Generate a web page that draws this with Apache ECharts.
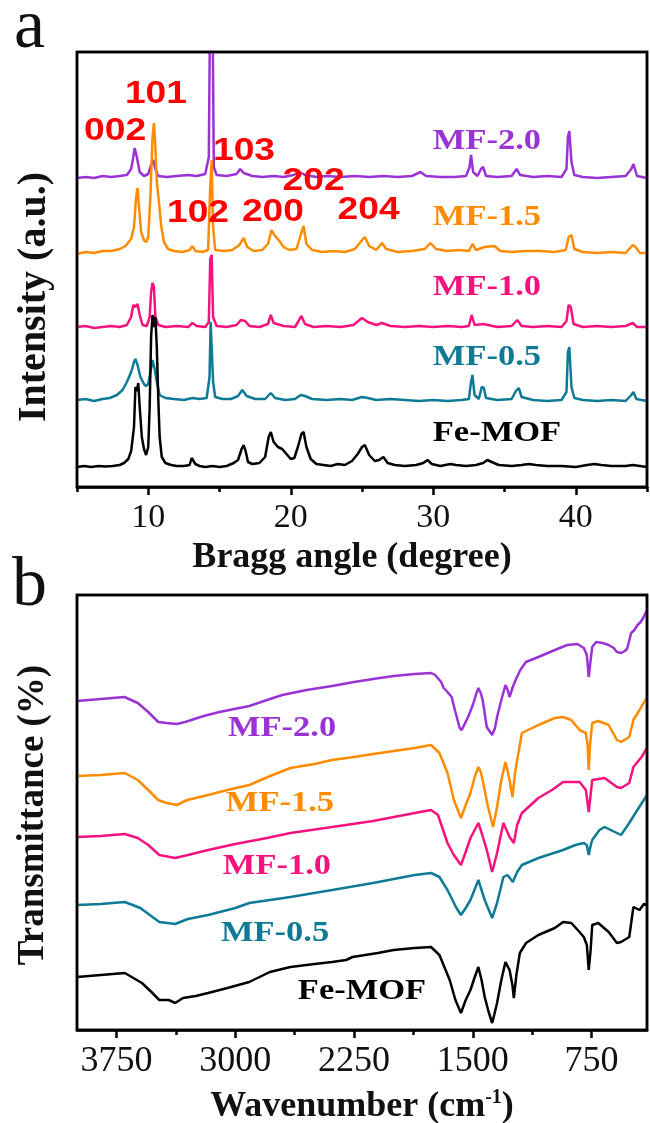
<!DOCTYPE html>
<html><head><meta charset="utf-8">
<script src="https://cdn.jsdelivr.net/npm/echarts@6/dist/echarts.min.js"></script>
<style>html,body{margin:0;padding:0;background:#fff}#c{width:650px;height:1123px}</style>
</head><body><div id="c"></div>
<script>
// ---------- Panel a: XRD (2θ, intensity as plotted with offsets) ----------
const xrdFeMOF = [[5,20],[5.5,21],[6,20],[6.5,21],[7,20.5],[7.5,21],[8,22],[8.3,24],[8.6,28],[8.8,36],[9.0,60],[9.1,100],[9.2,96],[9.3,104],[9.4,80],[9.55,50],[9.7,38],[9.85,32],[10.0,40],[10.1,80],[10.2,150],[10.3,172],[10.4,160],[10.5,170],[10.6,140],[10.7,90],[10.8,50],[10.95,30],[11.2,24],[11.6,22],[12,21],[12.5,21],[12.9,22],[13.05,29],[13.15,31],[13.3,23],[13.6,21],[14,20],[14.5,21],[15,20],[15.5,21],[16,24],[16.3,27],[16.55,38],[16.7,42],[16.85,35],[17.0,25],[17.3,23],[17.8,24],[18.2,30],[18.45,50],[18.6,55],[18.8,45],[19.1,40],[19.4,38],[19.7,33],[20.0,28],[20.25,29],[20.5,40],[20.75,53],[20.9,55],[21.1,40],[21.4,28],[21.8,23],[22.3,22],[22.8,21],[23.3,23],[23.8,22],[24.3,26],[24.7,33],[25.0,40],[25.2,42],[25.5,32],[25.9,26],[26.2,27],[26.5,30],[26.8,24],[27.3,22],[28,21],[28.8,22],[29.3,24],[29.6,27],[29.9,23],[30.5,21],[31.2,23],[31.6,22],[32.3,21],[33,22],[33.5,24],[33.8,27],[34.1,25],[34.6,22],[35.5,21],[36.2,22],[36.7,23],[37.2,22],[38,21],[39,21],[40,20],[40.8,22],[41.3,23],[41.8,22],[42.5,21],[43.5,21],[44,22],[44.5,21],[45,20]];
const xrdMF05 = [[5,87],[5.6,88],[6.2,86],[6.8,88],[7.3,89],[7.8,92],[8.2,97],[8.5,105],[8.8,115],[9.0,125],[9.1,128],[9.25,122],[9.45,110],[9.7,103],[9.85,101],[10.0,103],[10.15,115],[10.3,127],[10.45,118],[10.6,105],[10.8,92],[11.2,89],[11.8,88],[12.5,87],[13.1,89],[13.6,88],[14.1,89],[14.3,110],[14.38,165],[14.45,165],[14.55,105],[14.7,90],[15.2,88],[15.8,88],[16.3,91],[16.6,97],[16.9,91],[17.5,88],[18.2,88],[18.6,94],[18.9,89],[19.6,87],[20.3,88],[20.7,92],[21.0,91],[21.5,88],[22.5,87],[23.5,88],[24.3,87],[25.0,90],[25.4,89],[26,87],[27,88],[28,87],[29,86],[30,87],[31,86],[32,87],[32.5,88],[32.65,105],[32.75,112],[32.9,92],[33.2,88],[33.4,100],[33.55,99],[33.7,89],[34.5,87],[35.5,88],[35.8,96],[36.0,99],[36.2,90],[37,87],[38,86],[39,87],[39.35,95],[39.45,135],[39.55,140],[39.7,100],[39.9,89],[40.5,87],[41.5,86],[42.5,87],[43.5,86],[43.9,92],[44.05,95],[44.25,88],[45,86]];
const xrdMF10 = [[5,160],[5.6,161],[6.2,159],[6.8,160],[7.4,161],[8,160],[8.5,162],[8.8,170],[8.95,182],[9.1,180],[9.25,183],[9.4,172],[9.6,162],[9.9,161],[10.1,170],[10.2,195],[10.3,204],[10.4,200],[10.5,170],[10.7,162],[11.2,160],[12,161],[12.8,160],[13.1,164],[13.4,161],[14,160],[14.25,165],[14.35,228],[14.45,232],[14.55,170],[14.8,161],[15.5,160],[16.2,162],[16.5,167],[16.8,166],[17.1,161],[17.8,160],[18.4,163],[18.6,172],[18.8,164],[19.5,161],[20.3,160],[20.75,171],[21.0,163],[21.6,160],[22.5,161],[23.5,160],[24.4,162],[25.0,169],[25.4,165],[26.0,162],[26.4,164],[27,161],[28,160],[29,161],[30,160],[31,161],[32,160],[32.5,161],[32.7,172],[32.9,162],[33.5,163],[34.5,160],[35.5,161],[35.9,167],[36.2,161],[37,160],[38,161],[39,160],[39.35,166],[39.5,182],[39.65,180],[39.85,163],[40.5,160],[41.5,161],[42.5,160],[43.5,161],[44,164],[44.3,160],[45,160]];
const xrdMF15 = [[5,233],[5.6,235],[6.2,234],[6.8,236],[7.4,236],[8,238],[8.4,241],[8.8,248],[9.0,260],[9.15,290],[9.25,299],[9.35,280],[9.5,255],[9.7,247],[9.85,245],[10.0,250],[10.15,290],[10.3,350],[10.4,364],[10.5,340],[10.6,305],[10.75,285],[10.9,262],[11.1,245],[11.4,238],[11.8,236],[12.4,235],[12.9,237],[13.1,241],[13.3,236],[13.8,235],[14.2,237],[14.35,300],[14.45,327],[14.55,260],[14.7,237],[15.3,236],[15.9,237],[16.4,242],[16.7,249],[16.95,240],[17.4,236],[18.0,237],[18.4,243],[18.65,257],[18.85,252],[19.2,246],[19.5,240],[19.9,237],[20.4,238],[20.7,252],[20.9,261],[21.1,243],[21.5,237],[22.2,235],[23,236],[23.8,235],[24.5,238],[24.9,245],[25.2,250],[25.5,241],[26.0,237],[26.4,244],[26.7,238],[27.5,235],[28.5,236],[29.4,238],[29.8,244],[30.2,238],[31,236],[31.8,237],[32.5,236],[32.75,243],[33,237],[33.6,240],[34.3,241],[34.7,236],[35.5,235],[36.5,236],[37.5,236],[38.5,235],[39.3,237],[39.5,250],[39.7,252],[39.9,238],[40.5,235],[41.5,234],[42.5,235],[43.5,234],[44.0,242],[44.2,240],[44.5,234],[45,234]];
const xrdMF20 = [[5,309],[5.6,310],[6.2,309],[6.8,311],[7.4,310],[8,311],[8.5,312],[8.8,318],[8.95,330],[9.05,339],[9.2,330],[9.4,315],[9.7,311],[10.0,313],[10.2,322],[10.35,327],[10.5,318],[10.7,311],[11.3,310],[12,311],[12.8,312],[13.4,311],[14.0,313],[14.25,330],[14.35,500],[14.5,500],[14.6,320],[14.8,312],[15.5,311],[16.2,313],[16.45,318],[16.7,314],[17.3,311],[18,310],[18.8,311],[19.5,310],[20.2,312],[20.6,315],[21,312],[21.8,310],[22.5,311],[23.5,310],[24.5,311],[25.5,310],[26.5,311],[27.5,310],[28.5,311],[29.1,315],[29.5,311],[30.5,310],[31.5,310],[32.3,311],[32.55,320],[32.65,332],[32.8,315],[33.1,311],[33.35,318],[33.5,320],[33.7,311],[34.5,310],[35.5,311],[35.85,318],[36.1,312],[37,310],[38,311],[39,310],[39.35,318],[39.45,350],[39.55,356],[39.7,325],[39.9,312],[40.5,310],[41.5,309],[42.5,310],[43.5,311],[43.9,318],[44.05,323],[44.3,311],[45,309]];

// ---------- Panel b: FTIR (wavenumber, transmittance as plotted with offsets) ----------
const ftirMF20 = [[4000,329],[3850,331],[3700,333],[3616,327],[3550,318],[3487,308],[3434,307],[3370,306],[3317,308],[3200,314],[3100,318],[2912,324],[2800,330],[2704,335],[2550,340],[2389,344],[2250,348],[2130,351],[2000,354],[1867,356],[1764,357],[1738,355],[1700,348],[1684,342],[1660,338],[1634,333],[1610,318],[1583,302],[1570,300],[1530,313],[1500,325],[1477,337],[1465,342],[1450,337],[1438,330],[1412,303],[1378,295],[1360,302],[1347,313],[1320,330],[1294,345],[1280,340],[1268,333],[1250,342],[1230,350],[1200,360],[1165,368],[1086,373],[982,380],[904,385],[840,386],[799,382],[780,375],[768,353],[756,370],[746,383],[721,388],[680,387],[642,385],[610,382],[590,378],[564,377],[540,379],[526,381],[500,397],[480,400],[460,405],[440,408],[421,413],[400,420]];
const ftirMF15 = [[4000,254],[3850,255],[3698,257],[3616,250],[3550,240],[3487,230],[3434,227],[3370,225],[3304,230],[3172,235],[3050,240],[2912,245],[2780,254],[2652,262],[2500,266],[2389,270],[2250,273],[2130,276],[2000,279],[1867,282],[1764,285],[1711,277],[1660,257],[1620,230],[1575,212],[1545,225],[1515,237],[1490,252],[1465,263],[1450,258],[1438,250],[1404,223],[1372,203],[1347,223],[1320,250],[1294,268],[1268,250],[1250,233],[1235,255],[1220,270],[1190,297],[1086,305],[982,312],[930,313],[878,310],[826,300],[786,297],[775,285],[768,260],[760,285],[746,307],[708,309],[642,305],[590,290],[564,288],[512,293],[486,310],[447,320],[400,333]];
const ftirMF10 = [[4000,193],[3850,194],[3698,196],[3616,192],[3550,185],[3480,175],[3380,172],[3300,175],[3172,180],[3000,186],[2800,192],[2652,197],[2389,203],[2130,209],[1867,217],[1764,220],[1720,215],[1660,187],[1620,175],[1575,165],[1545,178],[1515,192],[1465,207],[1440,195],[1412,180],[1378,158],[1347,177],[1307,207],[1268,193],[1241,187],[1220,205],[1190,217],[1086,232],[1000,240],[930,248],[826,248],[786,240],[768,218],[746,250],[668,252],[590,243],[564,242],[512,247],[486,263],[434,273],[400,282]];
const ftirMF05 = [[4000,125],[3850,126],[3698,128],[3600,122],[3480,108],[3380,106],[3300,111],[3172,115],[3000,122],[2912,127],[2652,133],[2389,140],[2130,147],[1867,155],[1764,157],[1711,153],[1660,140],[1607,123],[1575,115],[1545,122],[1515,130],[1465,150],[1425,130],[1378,112],[1347,127],[1307,153],[1281,155],[1247,148],[1220,158],[1190,165],[1086,172],[930,180],[852,185],[799,187],[780,185],[768,175],[755,185],[746,190],[700,200],[668,203],[590,197],[564,195],[512,207],[473,217],[400,235]];
const ftirFeMOF = [[4000,53],[3850,55],[3698,57],[3590,47],[3530,38],[3480,30],[3420,30],[3380,27],[3330,32],[3250,34],[3172,37],[3050,42],[2912,48],[2782,58],[2652,63],[2500,66],[2389,68],[2300,70],[2260,73],[2100,77],[2000,80],[1867,82],[1764,83],[1711,75],[1646,50],[1610,30],[1575,17],[1545,30],[1515,40],[1490,52],[1465,63],[1445,50],[1425,33],[1400,18],[1378,7],[1365,15],[1347,27],[1320,50],[1294,68],[1268,60],[1250,45],[1241,32],[1225,55],[1203,77],[1164,87],[1086,95],[982,102],[930,108],[878,107],[826,98],[799,93],[780,85],[768,60],[756,80],[746,105],[708,107],[642,98],[590,87],[564,88],[512,93],[486,123],[447,120],[420,126],[400,125]];

const sampleNames = ['MF-2.0','MF-1.5','MF-1.0','MF-0.5','Fe-MOF'];
const colors = ['#9a32d6','#ff8c00','#f5127e','#0f7a96','#000000'];
const xrdTicks = [10,20,30,40];
const xrdMinorTicks = [5,15,25,35,45];
const ftirTicks = [750,1500,2250,3000,3750];
const ftirMinorTicks = [1125,1875,2625,3375];
// annotation anchors in data coordinates
const millerLabels = [['002',7.67,356],['101',10.54,393],['103',16.72,336],['102',13.49,274],['200',18.75,275],['202',21.6,306],['204',25.46,277]];
const xrdNameAnchors = [[33.77,346],[33.77,270],[33.77,200],[33.77,130],[34.47,54]];
const ftirNameAnchors = [[2705,302],[2718,227],[2737,164],[2749,97],[2200,39]];

const SERIF = '"Liberation Serif","Times New Roman",serif';
const SANS = '"Liberation Sans",Arial,sans-serif';

const chart = echarts.init(document.getElementById('c'), null, {renderer:'canvas'});

function mainAxis(grid, min, max, inverse, ticks, fs, name, gap, extra) {
  return {
    type:'value', gridIndex:grid, min, max, inverse, position:'bottom',
    axisLine:{show:true, onZero:false, lineStyle:{color:'#000', width:2.5}},
    axisTick:{show:true, customValues:ticks, length:8, lineStyle:{color:'#000', width:2.5}},
    axisLabel:{show:true, customValues:ticks, formatter:(v)=>String(v), fontFamily:SERIF, fontSize:fs, color:'#111', margin:14},
    splitLine:{show:false},
    name, nameLocation:'middle', nameGap:gap,
    nameTextStyle:Object.assign({fontFamily:SERIF, fontWeight:'bold', fontSize:36, color:'#111'}, extra||{})
  };
}
function minorAxis(grid, min, max, inverse, ticks) {
  return {
    type:'value', gridIndex:grid, min, max, inverse, position:'bottom',
    axisLine:{show:false},
    axisTick:{show:true, customValues:ticks, length:5, lineStyle:{color:'#000', width:2.5}},
    axisLabel:{show:false}, splitLine:{show:false}
  };
}

const xrdData = [xrdMF20, xrdMF15, xrdMF05, xrdMF10, xrdFeMOF];
const xrdColorIdx = [0,1,3,2,4];
const ftirData = [ftirMF20, ftirMF15, ftirMF10, ftirMF05, ftirFeMOF];

const series = [];
xrdData.forEach((d,i)=>{
  const ci = xrdColorIdx[i];
  series.push({type:'line', name:sampleNames[ci], xAxisIndex:0, yAxisIndex:0, data:d, showSymbol:false, symbol:'none',
    lineStyle:{color:colors[ci], width:2.5}, itemStyle:{color:colors[ci]}, clip:true, z:2+i});
});
ftirData.forEach((d,i)=>{
  series.push({type:'line', name:sampleNames[i], xAxisIndex:2, yAxisIndex:1, data:d, showSymbol:false, symbol:'none',
    lineStyle:{color:colors[i], width:2.5}, itemStyle:{color:colors[i]}, clip:true, z:2+i});
});

const gridBase = {left:77, width:570, height:435, show:true, borderColor:'#000', borderWidth:2.5,
  containLabel:false, outerBoundsMode:'none'};

chart.setOption({
  animation:false,
  backgroundColor:'#fff',
  grid:[
    Object.assign({top:52}, gridBase),
    Object.assign({top:595}, gridBase)
  ],
  xAxis:[
    mainAxis(0,5,45,false,xrdTicks,34,'Bragg angle (degree)',53,{padding:[0,20,0,0]}),
    minorAxis(0,5,45,false,xrdMinorTicks),
    mainAxis(1,400,4000,true,ftirTicks,36,'Wavenumber (cm{sup|-1})',58,{rich:{sup:{fontFamily:SERIF, fontWeight:'bold', fontSize:20, color:'#111', padding:[0,0,18,0]}}}),
    minorAxis(1,400,4000,true,ftirMinorTicks)
  ],
  yAxis:[
    {type:'value', gridIndex:0, min:0, max:435, show:false, splitLine:{show:false}},
    {type:'value', gridIndex:1, min:0, max:435, show:false, splitLine:{show:false}}
  ],
  series
});

const g = [];
// plot frames taken from the axes' own extents
[[0,[5,0],[45,435]],[1,[4000,0],[400,435]]].forEach(f=>{
  const p0 = chart.convertToPixel({gridIndex:f[0]}, f[1]);
  const p1 = chart.convertToPixel({gridIndex:f[0]}, f[2]);
  g.push({type:'rect', z:60, silent:true,
    shape:{x:Math.min(p0[0],p1[0]), y:Math.min(p0[1],p1[1]), width:Math.abs(p1[0]-p0[0]), height:Math.abs(p1[1]-p0[1])},
    style:{fill:null, stroke:'#000', lineWidth:2.5}});
});
g.push({type:'text', x:14, y:29, style:{text:'a', fontFamily:SERIF, fontSize:70, fill:'#111', align:'left', verticalAlign:'middle'}});
g.push({type:'text', x:12, y:587, style:{text:'b', fontFamily:SERIF, fontSize:70, fill:'#111', align:'left', verticalAlign:'middle'}});
g.push({type:'text', x:35, y:297, rotation:Math.PI/2, style:{text:'Intensity (a.u.)', fontFamily:SERIF, fontWeight:'bold', fontSize:40, fill:'#111', align:'center', verticalAlign:'middle'}});
g.push({type:'text', x:33, y:815, rotation:Math.PI/2, style:{text:'Transmittance (%)', fontFamily:SERIF, fontWeight:'bold', fontSize:37, fill:'#111', align:'center', verticalAlign:'middle'}});
millerLabels.forEach(m=>{
  const p = chart.convertToPixel({gridIndex:0}, [m[1], m[2]]);
  g.push({type:'text', x:p[0], y:p[1], scaleX:1.2, z:100, style:{text:m[0], fontFamily:SANS, fontWeight:'bold', fontSize:31, fill:'#ff0000', align:'center', verticalAlign:'middle'}});
});
xrdNameAnchors.forEach((a,i)=>{
  const p = chart.convertToPixel({gridIndex:0}, a);
  g.push({type:'text', x:p[0], y:p[1], scaleX:1.15, z:100, style:{text:sampleNames[i], fontFamily:SERIF, fontWeight:'bold', fontSize:30, fill:colors[i], align:'center', verticalAlign:'middle'}});
});
ftirNameAnchors.forEach((a,i)=>{
  const p = chart.convertToPixel({gridIndex:1}, a);
  g.push({type:'text', x:p[0], y:p[1], scaleX:1.15, z:100, style:{text:sampleNames[i], fontFamily:SERIF, fontWeight:'bold', fontSize:30, fill:colors[i], align:'center', verticalAlign:'middle'}});
});
chart.setOption({graphic:g});
</script>
</body></html>
